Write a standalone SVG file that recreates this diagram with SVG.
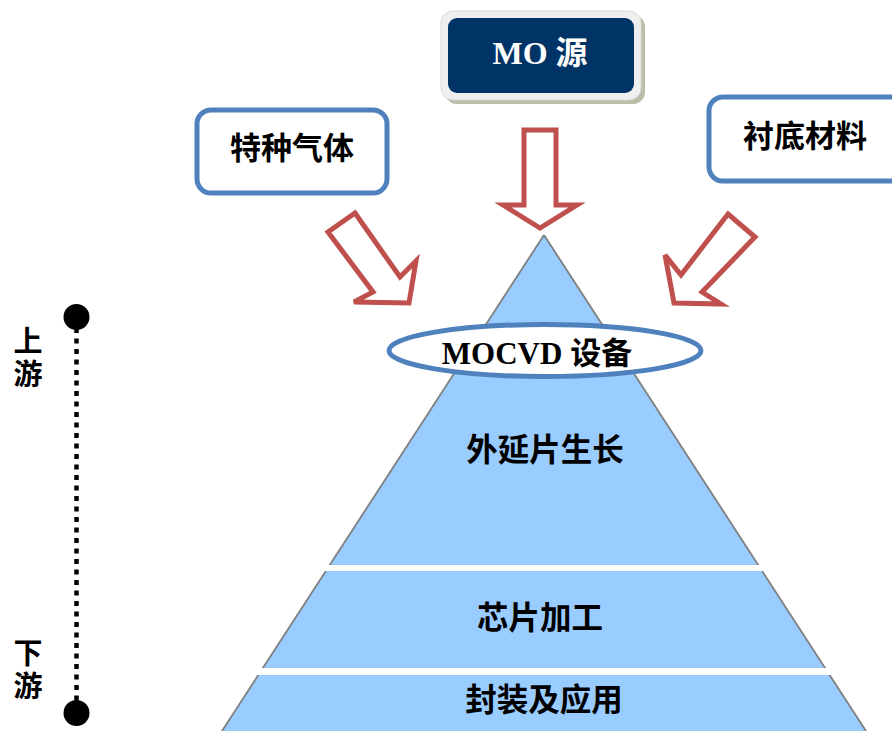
<svg xmlns="http://www.w3.org/2000/svg" width="892" height="731" viewBox="0 0 892 731">
<defs>
<style>
.cjk{font-family:"Noto Sans CJK SC","Noto Sans",sans-serif;font-weight:bold;fill:#000;text-anchor:middle}
.ser{font-family:"Liberation Serif","Noto Sans CJK SC",serif;font-weight:bold;text-anchor:middle}
.vert{font-family:"Noto Sans CJK SC","Noto Sans",sans-serif;font-weight:bold;fill:#000;writing-mode:vertical-rl;text-anchor:start;letter-spacing:4px}
.box{fill:#fff;stroke:#4F81BD;stroke-width:5}
.arr{fill:#fff;stroke:#C0504D;stroke-width:5;stroke-linejoin:miter}
.tier{fill:#99CCFF}
.edge{stroke:#7F7F7F;stroke-width:1.8;fill:none}
</style>
</defs>
<rect width="892" height="731" fill="#fff"/>

<g id="pyramid">
<polygon class="tier" points="544,235 222,731 866,731"/>
<line class="edge" x1="544" y1="235" x2="222" y2="731"/>
<line class="edge" x1="544" y1="235" x2="866" y2="731"/>
<rect x="200" y="565" width="700" height="6" fill="#fff"/>
<rect x="200" y="668" width="700" height="7" fill="#fff"/>
</g>

<g id="tier-epi"><text class="cjk" x="545" y="461" font-size="31.5">外延片生长</text></g>
<g id="tier-chip"><text class="cjk" x="540" y="629" font-size="31.5">芯片加工</text></g>
<g id="tier-pack"><text class="cjk" x="544" y="711" font-size="31.5">封装及应用</text></g>

<g id="connectors">
<polygon class="arr" points="524,130 556,130 556,205 577,205 540,228 503,205 524,205"/>
<polygon class="arr" points="328,232 355,213 400,277 416,261 409,303 354,302 373,292"/>
<polygon class="arr" points="728,214 755,237 702,292 721,304 674,303 665,255 681,275"/>
</g>

<g id="mocvd">
<ellipse cx="545" cy="350.5" rx="156" ry="26" fill="#fff" stroke="#4F81BD" stroke-width="5"/>
<text class="ser" x="537" y="364" font-size="31" fill="#000">MOCVD 设备</text>
</g>

<g id="mo-source">
<rect x="445" y="15" width="200" height="89" rx="12" fill="#B9BEA8"/>
<rect x="441" y="11" width="200" height="89" rx="12" fill="#EFEFEF" stroke="#DADADA" stroke-width="1"/>
<rect x="448" y="18" width="186" height="75" rx="9" fill="#003366"/>
<text class="ser" x="540" y="64" font-size="32" fill="#fff">MO 源</text>
</g>

<g id="special-gas">
<rect class="box" x="197" y="110" width="190" height="83" rx="14"/>
<text class="cjk" x="292" y="159" font-size="31">特种气体</text>
</g>

<g id="substrate">
<rect class="box" x="709" y="97" width="200" height="84" rx="14"/>
<text class="cjk" x="805" y="147" font-size="31">衬底材料</text>
</g>

<g id="axis">
<line x1="76.5" y1="328" x2="76.5" y2="704" stroke="#000" stroke-width="4.5" stroke-dasharray="5 5.5"/>
<circle cx="76.5" cy="317" r="13" fill="#000"/>
<circle cx="76.5" cy="713" r="13" fill="#000"/>
<text class="vert" x="28" y="326" font-size="29">上游</text>
<text class="vert" x="28" y="638" font-size="29">下游</text>
</g>
</svg>
